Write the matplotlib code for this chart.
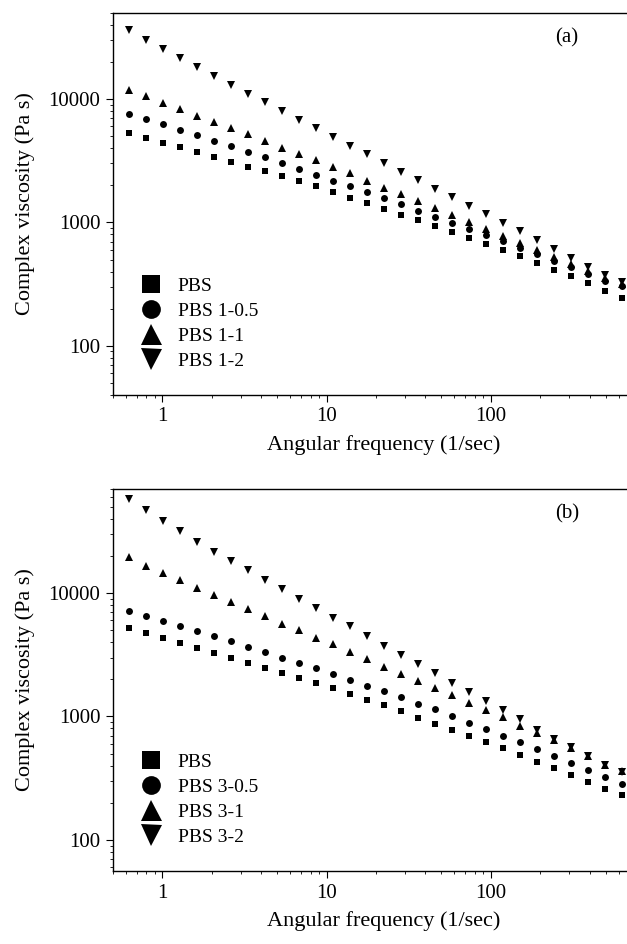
import matplotlib
matplotlib.use("Agg")
import matplotlib.pyplot as plt
from matplotlib import ticker

plt.rcParams['font.family'] = ['Liberation Serif', 'DejaVu Serif']

# angular frequency (rad/s), shared by all series
freq = [0.628, 0.797, 1.011, 1.283, 1.628, 2.065, 2.621, 3.325, 4.219, 5.353,
        6.792, 8.618, 10.93, 13.87, 17.60, 22.34, 28.34, 35.96, 45.63, 57.89,
        73.45, 93.20, 118.3, 150.0, 190.4, 241.5, 306.5, 388.8, 493.4, 628.0]

# panel (a)
pbs_a = [5320, 4850, 4415, 4045, 3685, 3375, 3090, 2835, 2600, 2365,
         2155, 1963, 1777, 1588, 1436, 1292, 1155, 1038, 933, 834,
         750, 670, 595, 530, 467, 415, 366, 323, 280, 244]
pbs1_05 = [7550, 6880, 6225, 5560, 5070, 4560, 4150, 3730, 3375, 3020,
           2710, 2440, 2180, 1963, 1754, 1567, 1400, 1236, 1105, 988,
           883, 784, 701, 622, 550, 488, 433, 383, 333, 306]
pbs1_1 = [11800, 10650, 9330, 8240, 7310, 6500, 5810, 5160, 4560, 4020,
          3570, 3175, 2815, 2490, 2170, 1915, 1700, 1490, 1307, 1140,
          1005, 883, 774, 679, 592, 522, 461, 407, 352, 318]
pbs1_2 = [36400, 30200, 25500, 21400, 18100, 15400, 13060, 11040, 9400, 7940,
          6790, 5780, 4940, 4170, 3570, 3020, 2565, 2195, 1880, 1607,
          1358, 1161, 988, 845, 723, 611, 516, 439, 378, 327]

# panel (b)
pbs_b = [5190, 4730, 4305, 3920, 3570, 3270, 2980, 2730, 2490, 2265,
         2050, 1866, 1690, 1510, 1368, 1228, 1099, 975, 877, 784,
         697, 618, 552, 489, 431, 383, 336, 294, 258, 232]
pbs3_05 = [7180, 6530, 5950, 5420, 4930, 4495, 4090, 3680, 3355, 3000,
           2730, 2455, 2225, 1986, 1775, 1596, 1426, 1268, 1140, 1005,
           889, 794, 701, 618, 546, 482, 421, 366, 321, 285]
pbs3_1 = [19500, 16700, 14550, 12680, 11040, 9690, 8500, 7410, 6550, 5650,
          5000, 4360, 3850, 3355, 2945, 2535, 2225, 1937, 1690, 1482,
          1292, 1125, 982, 845, 736, 641, 556, 475, 407, 359]
pbs3_2 = [58100, 46700, 38000, 31550, 26100, 21700, 18200, 15300, 12760, 10710,
          8940, 7510, 6270, 5360, 4450, 3730, 3150, 2660, 2240, 1880,
          1578, 1332, 1125, 946, 784, 662, 563, 475, 405, 355]

labels_a = ['PBS', 'PBS 1-0.5', 'PBS 1-1', 'PBS 1-2']
labels_b = ['PBS', 'PBS 3-0.5', 'PBS 3-1', 'PBS 3-2']
markers = ['s', 'o', '^', 'v']
xticks = [1, 10, 100]

fig = plt.figure(figsize=(6.27, 9.44), dpi=100)
# axes run a little past the right edge, like the cropped original
ax1 = fig.add_axes([0.1802, 0.5816, 0.8644, 0.405])
ax2 = fig.add_axes([0.1802, 0.0773, 0.8644, 0.405])


def draw(ax, series, labels, ylim, tag):
    for y, lab, m in zip(series, labels, markers):
        ms = 5.6 if m in ('^', 'v') else 5.0
        ax.plot(freq, y, m, color='black', ms=ms, mew=0, label=lab)
    ax.set_xscale('log')
    ax.set_yscale('log')
    ax.set_xlim(0.5, 1000)
    ax.set_ylim(*ylim)
    ax.set_xticks(xticks)
    fmt = ticker.FuncFormatter(lambda v, p: f"{v:g}")
    ax.xaxis.set_major_formatter(fmt)
    ax.yaxis.set_major_formatter(fmt)
    ax.xaxis.set_minor_formatter(ticker.NullFormatter())
    ax.yaxis.set_minor_formatter(ticker.NullFormatter())
    ax.tick_params(which='major', direction='out', length=5, width=0.8,
                   labelsize=15, pad=4)
    ax.tick_params(which='minor', direction='out', length=2.5, width=0.6)
    for s in ax.spines.values():
        s.set_linewidth(1.0)
    ax.set_xlabel('Angular frequency (1/sec)', fontsize=16, labelpad=6)
    ax.set_ylabel('Complex viscosity (Pa s)', fontsize=16, labelpad=10)
    ax.text(0.838, 0.934, tag, transform=ax.transAxes, fontsize=15,
            ha='center', va='center')
    ax.legend(loc='lower left', bbox_to_anchor=(0.019, 0.02), frameon=False,
              fontsize=14, markerscale=2.7, handlelength=1.0,
              handletextpad=0.9, labelspacing=0.38, borderpad=0.4)


draw(ax1, [pbs_a, pbs1_05, pbs1_1, pbs1_2], labels_a, (40, 50000), '(a)')
draw(ax2, [pbs_b, pbs3_05, pbs3_1, pbs3_2], labels_b, (56, 70000), '(b)')

fig.savefig('out.png', dpi=100)
